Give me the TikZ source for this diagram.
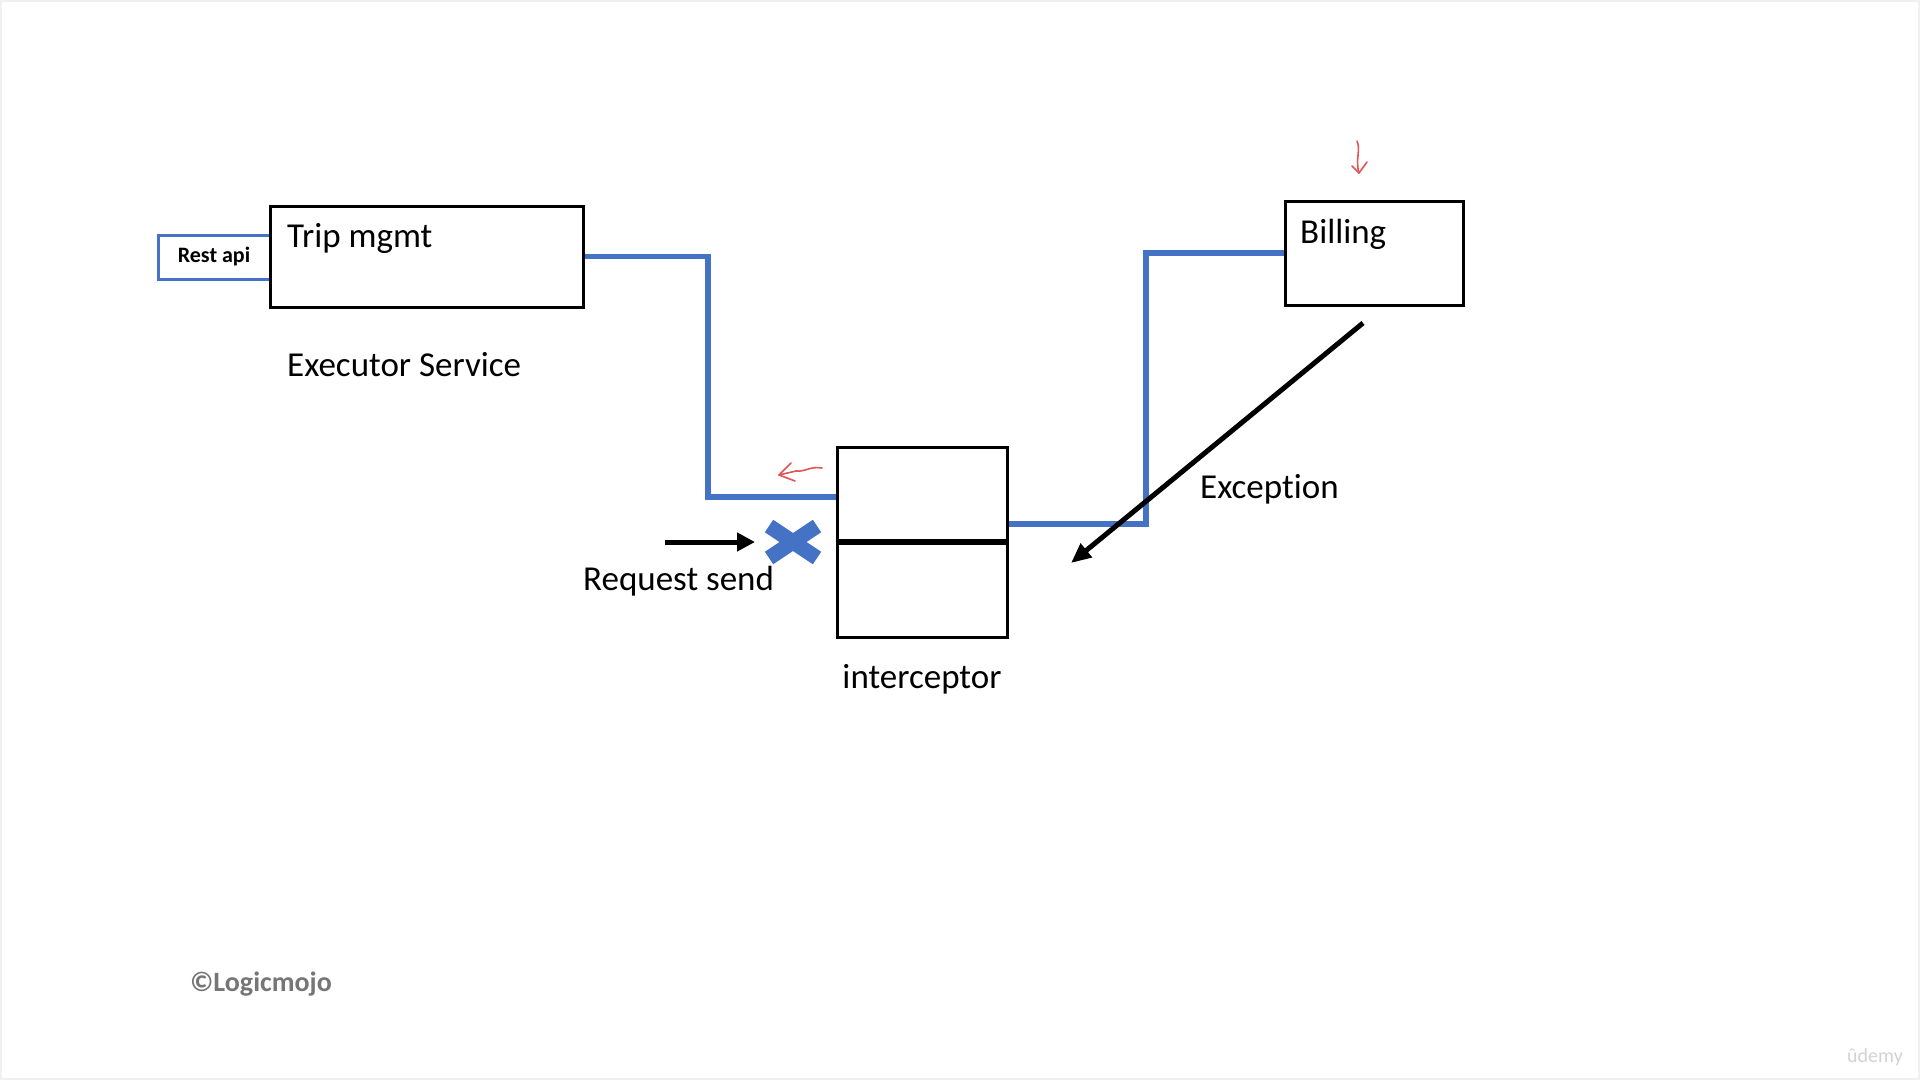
\documentclass[tikz,border=0pt]{standalone}
\usepackage{fontspec}
\setmainfont{Carlito}[Ligatures=NoCommon]
\usetikzlibrary{arrows.meta}
\definecolor{wireblue}{RGB}{68,114,196}
\definecolor{penred}{RGB}{226,84,84}
\definecolor{markgray}{RGB}{118,118,118}

\begin{document}
\begin{tikzpicture}[x=1pt,y=-1pt,
    box/.style={draw=black,line width=3pt,inner sep=0pt},
    wire/.style={draw=wireblue,line width=5.5pt},
    label/.style={font=\fontsize{35}{40}\selectfont,inner sep=0pt},
    pen/.style={draw=penred,line width=1.6pt,line cap=round,line join=round}]
  \useasboundingbox (0,0) rectangle (1920,1080);
  \draw[gray!12,line width=2pt] (1,1) rectangle (1919,1079);
  % services
  \node[box,draw=wireblue,minimum width=112pt,minimum height=44pt,
        font=\fontsize{22}{24}\selectfont\bfseries] (rest) at (214,257) {Rest api};
  \node[box,minimum width=313pt,minimum height=101pt] (trip) at (426.5,256.5) {};
  \node[box,minimum width=178pt,minimum height=104pt] (bill) at (1374,253) {};
  \node[box,minimum width=170pt,minimum height=190pt] (icpt) at (922,542) {};
  \draw[line width=6pt] (icpt.west) -- (icpt.east);
  % texts
  \node[label,anchor=base west] (tripname) at (287,247) {Trip mgmt};
  \node[label,anchor=base west] (exec) at (287,376) {Executor Service};
  \node[label,anchor=base west] (billname) at (1300,243) {Billing};
  \node[label,anchor=base west] (exc) at (1200,498) {Exception};
  \node[label,anchor=base west] (req) at (583,590) {Request send};
  \node[label,anchor=base] (icptname) at (922,688) {interceptor};
  % wires
  \draw[wire] (trip.east) -| (708,497) -- ([yshift=45pt]icpt.west);
  \draw[wire] (bill.west) -| (1146,524) -- ([yshift=18pt]icpt.east);
  % blocked request
  \coordinate (block) at (793,542);
  \draw[wireblue,line width=15pt] ([shift={(-24,-16)}]block) -- ([shift={(24,16)}]block)
                                  ([shift={(-24,16)}]block) -- ([shift={(24,-16)}]block);
  \coordinate (req-from) at (665,542);
  \coordinate (req-to) at (755,542);
  \draw[line width=5pt,-{Triangle[length=18pt,width=18pt]}] (req-from) -- (req-to);
  % exception back
  \coordinate (exc-from) at (1363,323);
  \coordinate (exc-to) at (1071,563);
  \draw[line width=5pt,-{Triangle[length=20pt,width=17pt]}] (exc-from) -- (exc-to);
  % pen marks
  \draw[pen] (822,468) .. controls (810,466) and (805,472) .. (796,471) -- (779,475);
  \draw[pen] (791,463) -- (779,475) -- (795,481);
  \draw[pen] (1357,141) .. controls (1361,150) and (1355,160) .. (1359,173);
  \draw[pen] (1352,166) -- (1359,173) -- (1367,162);
  % watermarks
  \node[font=\fontsize{28}{30}\selectfont\bfseries,text=markgray] (logo) at (261,984) {©Logicmojo};
  \node[font=\fontsize{20}{22}\selectfont,text=gray!35] (ud) at (1875,1057) {ûdemy};
\end{tikzpicture}
\end{document}
